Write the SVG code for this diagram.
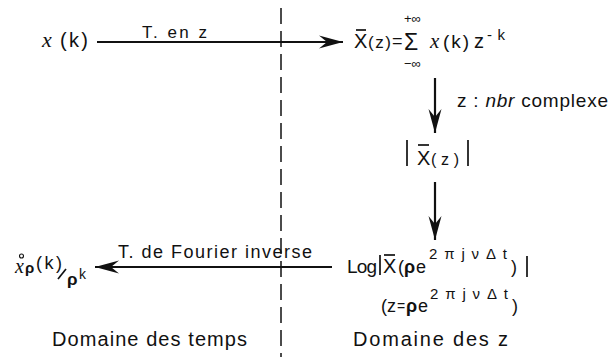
<svg xmlns="http://www.w3.org/2000/svg" width="610" height="357" viewBox="0 0 610 357">
<style>
text{font-family:"Liberation Sans",Arial,Helvetica,sans-serif;fill:#111}
.it{font-family:"Liberation Serif","Times New Roman",serif;font-style:italic}
.b{font-weight:bold}
.conn{stroke:#111;stroke-width:2.2;fill:none}
.bar{stroke:#111;stroke-width:1.7}
.dash{stroke:#111;stroke-width:1.5;stroke-dasharray:16 7;fill:none}
</style>
<defs>
<marker id="ah" viewBox="-24 -7 26 14" refX="0" refY="0" markerWidth="26" markerHeight="14" orient="auto" markerUnits="userSpaceOnUse">
<path d="M0,0 L-24,-6.5 L-16,0 L-24,6.5 Z" fill="#111"/>
</marker>
</defs>
<g id="separator">
<line class="dash" x1="281" y1="8" x2="281" y2="357"/>
</g>
<g id="connectors">
<line class="conn" x1="97" y1="42" x2="343" y2="42" marker-end="url(#ah)"/>
<line class="conn" x1="435" y1="78" x2="435" y2="133" marker-end="url(#ah)"/>
<line class="conn" x1="435" y1="182" x2="435" y2="240" marker-end="url(#ah)"/>
<line class="conn" x1="332" y1="267" x2="95" y2="267" marker-end="url(#ah)"/>
<text x="142" y="38" font-size="17" textLength="65" lengthAdjust="spacing">T. en z</text>
<text x="457" y="107" font-size="19" textLength="151" lengthAdjust="spacing">z : <tspan font-style="italic">nbr</tspan> complexe</text>
<text x="118" y="258" font-size="18" textLength="194" lengthAdjust="spacing">T. de Fourier inverse</text>
</g>
<g id="node-xk">
<text x="42" y="47" font-size="22" class="it">x</text>
<text x="60" y="47" font-size="20" textLength="28" lengthAdjust="spacing">(k)</text>
</g>
<g id="node-Xz">
<text x="354" y="48" font-size="20">X</text>
<line class="bar" x1="356" y1="30" x2="366" y2="30"/>
<text x="368" y="48" font-size="17" textLength="23" lengthAdjust="spacing">(z)</text>
<text x="392" y="47" font-size="18">=</text>
<text x="404" y="50" font-size="23">Σ</text>
<text x="404" y="23" font-size="13">+∞</text>
<text x="404" y="68" font-size="13">−∞</text>
<text x="430" y="48" font-size="21" class="it">x</text>
<text x="443" y="48" font-size="19" textLength="26" lengthAdjust="spacing">(k)</text>
<text x="474" y="48" font-size="20">z</text>
<text x="487" y="40" font-size="15" textLength="18" lengthAdjust="spacing">-k</text>
</g>
<g id="node-absX">
<line class="bar" x1="407" y1="140" x2="407" y2="166"/>
<text x="417" y="165" font-size="20">X</text>
<line class="bar" x1="418" y1="145" x2="429" y2="145"/>
<text x="431" y="165" font-size="16" textLength="28" lengthAdjust="spacing">(z)</text>
<line class="bar" x1="468" y1="140" x2="468" y2="166"/>
</g>
<g id="node-logX">
<text x="347" y="273" font-size="19" textLength="30" lengthAdjust="spacing">Log</text>
<line class="bar" x1="380" y1="255" x2="380" y2="275"/>
<text x="383" y="273" font-size="20">X</text>
<line class="bar" x1="384" y1="255" x2="395" y2="255"/>
<text x="398" y="273" font-size="18">(</text>
<text x="404" y="273" font-size="18" class="b">ρ</text>
<text x="416" y="273" font-size="18">e</text>
<text x="429" y="259" font-size="15" textLength="78" lengthAdjust="spacing">2πjνΔt</text>
<text x="511" y="273" font-size="18">)</text>
<line class="bar" x1="527" y1="256" x2="527" y2="277"/>
<text x="381" y="312" font-size="18">(</text>
<text x="387" y="312" font-size="18">z</text>
<text x="397" y="311" font-size="14">=</text>
<text x="406" y="312" font-size="18" class="b">ρ</text>
<text x="418" y="312" font-size="18">e</text>
<text x="430" y="299" font-size="15" textLength="78" lengthAdjust="spacing">2πjνΔt</text>
<text x="512" y="312" font-size="18">)</text>
</g>
<g id="node-xrho">
<text x="15" y="273" font-size="20" class="it">x</text>
<circle cx="21.5" cy="256" r="2" fill="none" stroke="#111" stroke-width="1.1"/>
<text x="25" y="273" font-size="15" class="b">ρ</text>
<text x="36" y="269" font-size="18" textLength="26" lengthAdjust="spacing">(k)</text>
<line class="bar" x1="58" y1="279" x2="66" y2="269"/>
<text x="67" y="285" font-size="17" class="b">ρ</text>
<text x="79" y="279" font-size="14">k</text>
</g>
<g id="labels">
<text x="52" y="346" font-size="20" textLength="195" lengthAdjust="spacing">Domaine des temps</text>
<text x="353" y="346" font-size="20" textLength="155" lengthAdjust="spacing">Domaine des z</text>
</g>
</svg>
